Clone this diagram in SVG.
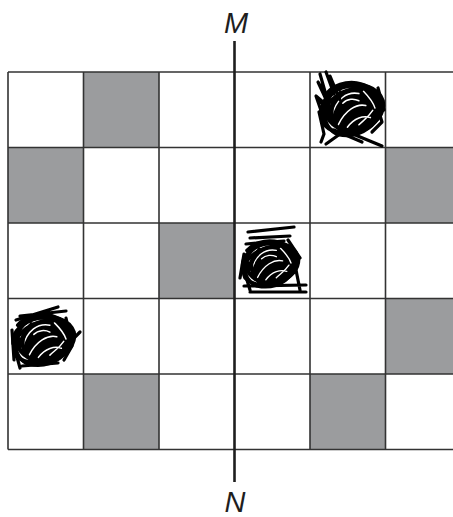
<svg xmlns="http://www.w3.org/2000/svg" width="453" height="517" viewBox="0 0 453 517">
  <defs>
    <style>
      .shade { fill: #9b9c9e; }
      .grid { stroke: #333333; stroke-width: 1.6; fill: none; }
      .axis { stroke: #1e1e1e; stroke-width: 2.6; }
      .lbl { font-family: "Liberation Sans", Arial, sans-serif; font-style: italic; font-size: 29px; fill: #1e1e1e; text-anchor: middle; }
      .scr { fill: none; stroke: #000; stroke-width: 3.2; stroke-linecap: round; stroke-linejoin: round; }
      .gap { fill: none; stroke: #fff; stroke-width: 1.3; stroke-linecap: round; }
    </style>
    <g id="blob">
      <ellipse cx="0" cy="0" rx="25" ry="21" fill="#000"/>
      <path class="gap" d="M-18,8 C-14,-8 -4,-14 6,-12 M-12,14 C-6,2 4,-4 12,-2 M-4,16 C2,8 10,6 16,8 M-20,-2 C-18,-12 -8,-17 0,-16 M6,14 C10,10 14,8 18,2 M-8,-4 C-4,-8 2,-8 6,-6 M10,-14 C14,-10 18,-6 20,0"/>
      <path class="scr" d="M-26,4 C-29,-18 18,-30 27,-6 C31,16 -8,30 -24,14 C-31,-2 -6,-22 18,-15 C31,-8 24,18 2,21 C-18,22 -24,0 -10,-13"/>
      <path class="scr" d="M-22,-12 C-10,-26 20,-24 24,-4 C27,12 8,26 -12,22 C-28,16 -27,-6 -14,-16"/>
    </g>
  </defs>

  <g id="cells">
    <rect class="shade" x="83.5" y="72" width="75.5" height="75.5"/>
    <rect class="shade" x="8" y="147.5" width="75.5" height="75.5"/>
    <rect class="shade" x="385.5" y="147.5" width="75.5" height="75.5"/>
    <rect class="shade" x="159" y="223" width="75.5" height="75.5"/>
    <rect class="shade" x="385.5" y="298.5" width="75.5" height="75.5"/>
    <rect class="shade" x="83.5" y="374" width="75.5" height="75.5"/>
    <rect class="shade" x="310" y="374" width="75.5" height="75.5"/>
  </g>

  <g id="grid">
    <path class="grid" d="M8,72 H453 M8,147.5 H453 M8,223 H453 M8,298.5 H453 M8,374 H453 M8,449.5 H453 M8,72 V449.5 M83.5,72 V449.5 M159,72 V449.5 M310,72 V449.5 M385.5,72 V449.5"/>
  </g>

  <g id="axis-MN">
    <line class="axis" x1="234.5" y1="41" x2="234.5" y2="482"/>
    <text class="lbl" x="236" y="33">M</text>
    <text class="lbl" x="235" y="512">N</text>
  </g>

  <g id="scribble-1">
    <use href="#blob" transform="translate(352,108) scale(1.15,1.2)"/>
    <path class="scr" d="M320,74 L326,95 L318,82 L330,108 L316,96 L326,125 L319,112 L324,134 L321,142 M326,72 L334,94 L330,76 L340,100 M320,100 L332,120 M340,134 L326,144 M348,132 L382,146 M334,130 L362,142 M374,96 L382,122 L372,132 M378,88 L384,110"/>
  </g>

  <g id="scribble-2">
    <use href="#blob" transform="translate(270,263) scale(1.05,1.05)"/>
    <path class="scr" d="M248,232 L294,227 M250,238 L290,236 M246,244 L284,241 M244,286 L306,285 M250,292 L306,292 M292,250 L300,290 M288,240 L300,258 M244,254 L240,278 M244,270 L250,290"/>
  </g>

  <g id="scribble-3">
    <use href="#blob" transform="translate(43,339) scale(1.15,1.15)"/>
    <path class="scr" d="M16,320 L58,307 M20,316 L66,311 M12,330 L14,360 M22,366 L58,363 M66,318 L72,346 L64,360 M70,342 L80,332 M14,346 L20,368"/>
  </g>
</svg>
